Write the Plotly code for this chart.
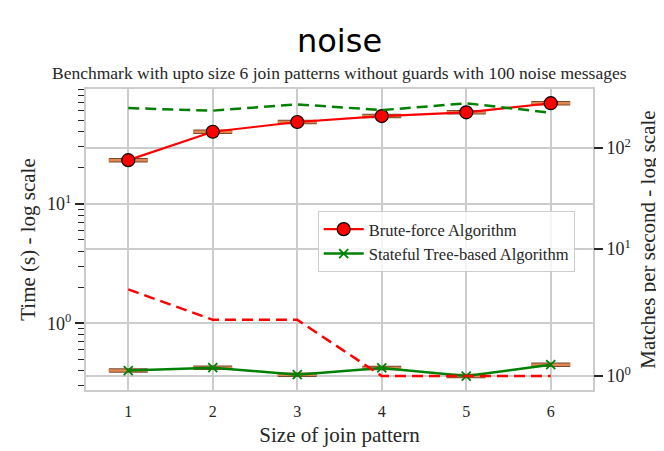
import numpy as np
import plotly.graph_objects as go

# ---- data ----
pattern_size = [1, 2, 3, 4, 5, 6]
bf_time = [23.2, 40.1, 48.4, 54.3, 58.3, 69.5]          # Brute-force, seconds
st_time = [0.402, 0.425, 0.372, 0.423, 0.362, 0.451]    # Stateful tree, seconds
bf_mps = [4, 2, 2, 1, 1, 1]                             # Brute-force matches / s
st_mps = [248, 234, 270, 237, 277, 223]                 # Stateful matches / s
left_ticks = [1, 10]
left_ticktext = ["10<sup>0</sup>", "10<sup>1</sup>"]
right_ticks = [1, 10, 100]
right_ticktext = ["10<sup>0</sup>", "10<sup>1</sup>", "10<sup>2</sup>"]
series_names = ["Brute-force Algorithm", "Stateful Tree-based Algorithm"]


def symlog(vals, linthresh=2.0, linscale=1.0, base=10.0):
    """Symmetric-log scale (as used by the right axis of the original)."""
    adj = linscale / (1.0 - 1.0 / base)
    out = []
    for a in vals:
        if abs(a) <= linthresh:
            out.append(a * adj)
        else:
            out.append(float(np.sign(a)) * linthresh * (adj + np.log(abs(a) / linthresh) / np.log(base)))
    return out


SERIF = "Liberation Serif"
TXT = "#262626"
GRID = "#cccccc"

fig = go.Figure()

# box "medians" (collapsed boxes)
for vals in (bf_time, st_time):
    fig.add_trace(go.Scatter(
        x=pattern_size, y=vals, mode="markers", showlegend=False, hoverinfo="skip",
        marker=dict(size=1, color="rgba(0,0,0,0)"),
        error_x=dict(type="constant", value=0.23, color="#7a4b30", thickness=4.5, width=0),
    ))
    fig.add_trace(go.Scatter(
        x=pattern_size, y=vals, mode="markers", showlegend=False, hoverinfo="skip",
        marker=dict(size=1, color="rgba(0,0,0,0)"),
        error_x=dict(type="constant", value=0.23, color="#e0864f", thickness=2.5, width=0),
    ))

fig.add_trace(go.Scatter(
    x=pattern_size, y=bf_time, mode="lines+markers", name=series_names[0],
    line=dict(color="#ff0000", width=2.2),
    marker=dict(symbol="circle", size=13, color="#ff0000", line=dict(color="black", width=1.2)),
))
fig.add_trace(go.Scatter(
    x=pattern_size, y=st_time, mode="lines+markers", name=series_names[1],
    line=dict(color="#008000", width=2.5),
    marker=dict(symbol="x-thin", size=9, color="#008000", line=dict(color="#008000", width=1.8)),
))

fig.add_trace(go.Scatter(
    x=pattern_size, y=symlog(bf_mps), mode="lines", yaxis="y2", showlegend=False,
    line=dict(color="#ff0000", width=2.5, dash="11px,6px"),
))
fig.add_trace(go.Scatter(
    x=pattern_size, y=symlog(st_mps), mode="lines", yaxis="y2", showlegend=False,
    line=dict(color="#008000", width=2.5, dash="11px,6px"),
))

minor_vals = [m * d for d in (0.1, 1, 10) for m in range(2, 10)]

fig.update_layout(
    width=656, height=443,
    margin=dict(l=78, r=71, t=81, b=61),
    paper_bgcolor="white", plot_bgcolor="white",
    font=dict(family=SERIF, color=TXT),
    showlegend=True,
    xaxis=dict(
        range=[0.5, 6.5], tickvals=pattern_size, ticks="", automargin=False,
        showgrid=True, gridcolor=GRID, gridwidth=1.5, zeroline=False,
        showline=True, linecolor=GRID, linewidth=2, mirror=True,
        ticklabelstandoff=6,
        tickfont=dict(family=SERIF, size=16, color=TXT),
        title=dict(text="Size of join pattern", font=dict(family=SERIF, size=21, color=TXT), standoff=8),
    ),
    yaxis=dict(
        type="log", range=[-0.558, 1.961], automargin=False,
        tickvals=left_ticks, ticktext=left_ticktext,
        ticks="outside", ticklen=9, tickwidth=1.5, tickcolor=TXT,
        minor=dict(tickvals=minor_vals, ticks="outside", ticklen=6, tickwidth=1.2,
                   tickcolor=TXT, showgrid=False),
        showgrid=True, gridcolor=GRID, gridwidth=1.5, zeroline=False,
        showline=True, linecolor=GRID, linewidth=2, mirror=True,
        tickfont=dict(family=SERIF, size=18, color=TXT),
        title=dict(text="Time (s) - log scale", font=dict(family=SERIF, size=21, color=TXT), standoff=6),
    ),
    yaxis2=dict(
        overlaying="y", side="right", range=[0.834, 6.787], automargin=False,
        tickvals=symlog(right_ticks), ticktext=right_ticktext,
        ticks="outside", ticklen=9, tickwidth=1.5, tickcolor=TXT,
        showgrid=True, gridcolor=GRID, gridwidth=1.5, zeroline=False, showline=False,
        tickfont=dict(family=SERIF, size=18, color=TXT),
        title=dict(text="Matches per second - log scale", font=dict(family=SERIF, size=21, color=TXT), standoff=10),
    ),
    legend=dict(
        x=0.457, y=0.595, xanchor="left", yanchor="top",
        bgcolor="rgba(255,255,255,0.8)", bordercolor=GRID, borderwidth=1,
        font=dict(family=SERIF, size=16.5, color=TXT),
        itemwidth=40, tracegroupgap=0,
    ),
    annotations=[
        dict(text="noise", x=0.5, y=1.159, xref="paper", yref="paper",
             xanchor="center", yanchor="middle", showarrow=False,
             font=dict(family="DejaVu Sans", size=32, color="black")),
        dict(text="Benchmark with upto size 6 join patterns without guards with 100 noise messages",
             x=0.5, y=1.053, xref="paper", yref="paper", xanchor="center", yanchor="middle",
             showarrow=False, font=dict(family=SERIF, size=17.5, color=TXT)),
    ],
)

fig.write_html("out.html")
